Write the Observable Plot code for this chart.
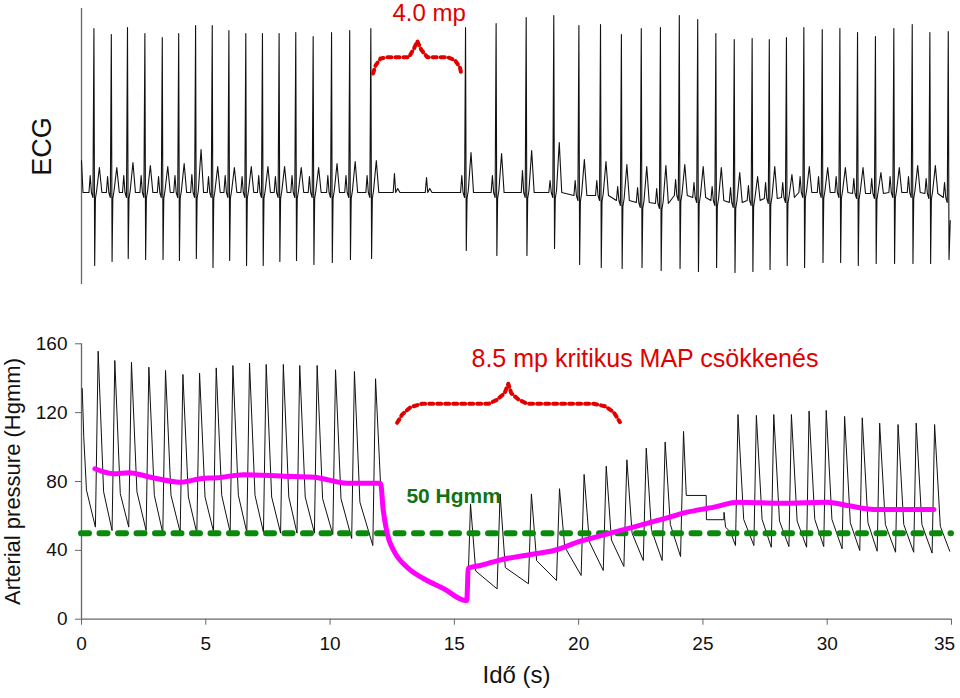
<!DOCTYPE html>
<html><head><meta charset="utf-8">
<script src="https://cdn.jsdelivr.net/npm/d3@7"></script>
<script src="https://cdn.jsdelivr.net/npm/@observablehq/plot@0.6"></script>
<style>
html,body{margin:0;padding:0;background:#fff;}
#wrap{position:relative;width:960px;height:698px;overflow:hidden;}
#wrap svg{position:absolute;left:0;overflow:visible;}
</style></head><body><div id="wrap"></div>
<script>
const FONT = "'Liberation Sans', Arial, sans-serif";
const RED = "#e00000";

// ---------- ECG (arbitrary mV, baseline 0) ----------
const ecgR = [0.50,1.20,1.85,2.55,3.25,3.91,4.59,5.26,5.93,6.61,7.28,7.95,8.62,9.32,10.06,10.79,11.64,
  15.45,16.68,17.89,19.00,20.01,20.88,21.72,22.52,23.29,24.05,24.79,25.52,26.26,26.98,27.67,28.36,29.06,29.80,30.51,31.22,31.94,32.68,33.42,34.13,34.87];
const ecgRtop = [1.64,1.58,1.65,1.59,1.55,1.59,1.67,1.67,1.62,1.59,1.59,1.59,1.60,1.56,1.60,1.62,1.64,
  1.65,1.69,1.75,1.77,1.67,1.68,1.58,1.64,1.65,1.77,1.73,1.59,1.53,1.54,1.53,1.55,1.65,1.63,1.64,1.60,1.56,1.64,1.68,1.60,1.61];
const ecgS = [-0.73,-0.69,-0.66,-0.67,-0.67,-0.68,-0.66,-0.75,-0.68,-0.73,-0.73,-0.69,-0.68,-0.72,-0.70,-0.67,-0.66,
  -0.58,-0.63,-0.63,-0.56,-0.72,-0.75,-0.76,-0.75,-0.78,-0.76,-0.79,-0.75,-0.80,-0.79,-0.77,-0.73,-0.75,-0.70,-0.70,-0.73,-0.71,-0.71,-0.71,-0.71,-0.67];
const ecgT = [0.25,0.25,0.30,0.27,0.26,0.29,0.43,0.26,0.25,0.26,0.26,0.26,0.25,0.25,0.29,0.31,0.32,
  0.40,0.39,0.42,0.50,0.33,0.31,0.28,0.26,0.27,0.28,0.26,0.25,0.20,0.16,0.26,0.18,0.26,0.25,0.25,0.25,0.20,0.25,0.27,0.27,0.00];
const ecgP = [0.17,0.16,0.17,0.17,0.16,0.17,0.18,0.16,0.17,0.16,0.17,0.16,0.17,0.16,0.17,0.17,0.17,
  0.17,0.17,0.22,0.12,0.15,0.15,0.14,0.15,0.15,0.16,0.15,0.14,0.15,0.15,0.16,0.15,0.16,0.16,0.16,0.15,0.15,0.16,0.16,0.15,0.15];
const ecgBase = [0,0,0,0,0,0,0,0,0,0,0,0,0,0,0,0,0,
  0,0,0,0,-0.03,-0.03,-0.08,-0.10,-0.11,-0.03,-0.05,-0.08,-0.10,-0.08,-0.06,-0.05,0,0,0,-0.01,-0.01,0,0,-0.01,-0.05];
const ecgPauseP = [12.59, 13.88];
const ecgPausePv = [0.19, 0.15];
const ecgStart = [[0, 0.32], [0.06, 0.0]];
const ecgEnd = [34.95, -0.28];

// ---------- Arterial pressure (Hgmm) ----------
const bpLead = [[0.03,134],[0.09,106],[0.20,75]];
const bpOnsetA = [0.56,1.23,1.90,2.60,3.27,3.97,4.64,5.31,5.98,6.65,7.32,8.01,8.67,9.37,10.11,10.87,11.72];
const bpDiaA   = [53.5,51.5,53.5,51.5,50,50.5,50,51,50.5,50.5,50.5,50,50,50,49.2,46.9,42.8];
const bpSysA   = [155.7,150.3,149.3,146.4,144.5,142.2,142.9,146,147.4,148.8,148,148,147.4,147.4,144.9,143.9,139.7];
const bpNotchA = [74,73,74,72,72,71,71,72,72,72,71,71,71,70,70,68,null];
const bpPause = [[12.03,79],[12.14,63.2],[12.30,49.6],[12.56,39.9],[13.10,30.2],[13.77,23.5],[14.58,17.7],[15.45,10.9]];
const bpOnsetB = [15.53,16.72,17.98,19.11,20.10,20.99,21.82,22.60,23.36,24.10];
const bpDiaB   = [10.9,17.6,20.6,22.5,25.4,28.3,30.6,34.1,34.1,36.4];
const bpSysB   = [67,72.8,72.8,75.8,84.1,88.9,92.6,99.4,102.9,109.1];
const bpNotchB = [28,30,34,42,45,46,50,52,55,null];
const bpArtifact = [[24.33,71.9],[25.13,71.9],[25.14,57.8],[25.84,57.8],[25.85,62.1],[25.91,53.5],[26.11,50.6]];
const bpOnsetC = [26.31,27.05,27.75,28.46,29.17,29.86,30.60,31.31,32.01,32.75,33.48,34.22];
const bpDiaC   = [42.8,42.8,41.8,42.2,41.8,42.2,40.9,39.9,39.5,38.9,38.9,38.4];
const bpSysC   = [118.9,118.4,118.9,118.9,120.9,121.3,117.8,117,113.9,113.1,113.9,113.1];
const bpNotchC = [58,58,57,57,58,58,56,56,55,55,55,54];
const bpEnd = [[34.93,39.5]];

// MAP (magenta)
const mapT = [0.54,1.30,1.90,2.78,3.98,4.79,5.46,6.53,8.14,9.35,10.69,12.03,12.14,12.30,12.56,13.10,13.77,14.58,15.45,15.50,15.56,16.05,16.86,18.06,19.00,20.07,21.28,22.09,23.29,24.37,25.44,26.38,28.12,30.00,30.80,32.01,34.29];
const mapV = [87.4,84.5,85.1,82.5,79.6,81.6,82.2,83.9,83.1,82.5,79.0,79.0,63.2,49.6,39.9,30.2,23.5,17.7,10.9,10.9,29.6,31.2,34.5,37.6,39.9,45.3,50.0,53.1,57.8,62.2,65.1,68.0,67.4,68.0,66.1,63.7,63.7];
const critical = [50];

const xTicks = [0,5,10,15,20,25,30,35];
const yTicks = [0,40,80,120,160];

// annotations (data units)
const braceTop = [[11.73,1.19],[11.83,1.27],[12.03,1.34],[12.30,1.353],[13.17,1.353],[13.37,1.437],[13.51,1.513],[13.67,1.427],[13.91,1.353],[14.71,1.353],[15.01,1.327],[15.22,1.253],[15.29,1.18]];
const braceBottom = [[12.70,114.1],[12.90,118.9],[13.24,123.2],[13.71,125.2],[16.39,125.2],[16.72,127.5],[17.02,131.3],[17.17,136.8],[17.29,131.3],[17.59,127.5],[17.93,125.2],[20.61,125.2],[21.08,123.6],[21.41,120.3],[21.66,114.5]];
const noteTop = {text: "4.0 mp", at: [12.51, 1.72]};
const noteBottom = {text: "8.5 mp kritikus MAP csökkenés", at: [15.69, 146.4]};
const noteLimit = {text: "50 Hgmm", at: [13.07, 67.4]};

// ---------- build traces ----------
const ecgPts = [...ecgStart];
ecgR.forEach((r, i) => {
  const b = ecgBase[i];
  const tpl = [[-0.20,b],[-0.15,b+ecgP[i]],[-0.10,b],[-0.04,b-0.05],[0,ecgRtop[i]],[0.03,ecgS[i]],
    [0.06,b-0.06],[0.11,b+0.02],[0.22,ecgT[i]],[0.32,b]];
  tpl.forEach(([dt, v]) => ecgPts.push([r + dt, v]));
});
ecgPauseP.forEach((t, i) => {
  [[-0.05,0],[0,ecgPausePv[i]],[0.05,0],[0.13,0.04],[0.22,0]].forEach(([dt,v]) => ecgPts.push([t+dt, v]));
});
const ecg = ecgPts.filter(d => d[0] <= 34.92).sort((a,b) => a[0]-b[0]);
ecg.push(ecgEnd);

function beats(onset, dia, sys, notch, rise) {
  const out = [];
  onset.forEach((t, i) => {
    out.push([t, dia[i]], [t + rise, sys[i]]);
    if (notch[i] != null) out.push([t + 0.33, notch[i]]);
  });
  return out;
}
const bp = [
  ...bpLead,
  ...beats(bpOnsetA, bpDiaA, bpSysA, bpNotchA, 0.11),
  ...bpPause,
  ...beats(bpOnsetB, bpDiaB, bpSysB, bpNotchB, 0.12),
  ...bpArtifact,
  ...beats(bpOnsetC, bpDiaC, bpSysC, bpNotchC, 0.10),
  ...bpEnd
];
const map = mapT.map((t, i) => [t, mapV[i]]);

const wrap = document.getElementById("wrap");

const topPlot = Plot.plot({
  width: 960, height: 300,
  marginLeft: 81, marginRight: 9, marginTop: 8, marginBottom: 16,
  x: {domain: [0, 35], axis: null},
  y: {domain: [-0.92, 1.84], axis: null},
  style: {fontFamily: FONT, background: "transparent", overflow: "visible"},
  marks: [
    Plot.ruleX([0], {stroke: "#666", strokeWidth: 1.3}),
    Plot.line(ecg, {x: d => d[0], y: d => d[1], stroke: "#111", strokeWidth: 1.1}),
    Plot.line(braceTop, {x: d => d[0], y: d => d[1], stroke: RED, strokeWidth: 4, strokeDasharray: "4,4"}),
    Plot.text([noteTop], {x: d => d.at[0], y: d => d.at[1], text: d => d.text, fill: RED, fontSize: 24, textAnchor: "start", lineAnchor: "bottom"}),
    Plot.text(["ECG"], {text: d => d, frameAnchor: "left", dx: -39, rotate: -90, textAnchor: "middle", lineAnchor: "middle", fontSize: 27, fill: "#111"})
  ]
});
topPlot.style.top = "0px";
wrap.appendChild(topPlot);

const botPlot = Plot.plot({
  width: 960, height: 398,
  marginLeft: 81, marginRight: 9, marginTop: 43.3, marginBottom: 79.3,
  x: {domain: [0, 35]},
  y: {domain: [0, 160]},
  style: {fontFamily: FONT, background: "transparent", overflow: "visible"},
  marks: [
    Plot.axisX({ticks: xTicks, tickSize: 6, tickPadding: 11, fontSize: 19, stroke: "#666", fill: "#111", label: null,
      tickFormat: d => d === 35 ? "" : String(d)}),
    Plot.text([35], {x: d => d, text: d => String(d), frameAnchor: "bottom", dy: 17, dx: -7, lineAnchor: "top", fontSize: 19, fill: "#111"}),
    Plot.axisY({ticks: yTicks, tickSize: 6, tickPadding: 8, fontSize: 19, stroke: "#666", fill: "#111", label: null}),
    Plot.ruleX([0], {stroke: "#666", strokeWidth: 1.3}),
    Plot.ruleY([0], {stroke: "#666", strokeWidth: 1.3}),
    Plot.line(bp, {x: d => d[0], y: d => d[1], stroke: "#111", strokeWidth: 1}),
    Plot.ruleY(critical, {stroke: "#0a8a0a", strokeWidth: 6, strokeDasharray: "8,10.5", strokeLinecap: "round"}),
    Plot.line(map, {x: d => d[0], y: d => d[1], stroke: "#ff00ff", strokeWidth: 5, strokeLinejoin: "round", curve: "monotone-x"}),
    Plot.line(braceBottom, {x: d => d[0], y: d => d[1], stroke: RED, strokeWidth: 4, strokeDasharray: "4,4"}),
    Plot.text([noteBottom], {x: d => d.at[0], y: d => d.at[1], text: d => d.text, fill: RED, fontSize: 25, textAnchor: "start", lineAnchor: "bottom"}),
    Plot.text([noteLimit], {x: d => d.at[0], y: d => d.at[1], text: d => d.text, fill: "#137313", fontSize: 21, fontWeight: "bold", textAnchor: "start", lineAnchor: "bottom"}),
    Plot.text(["Arterial pressure (Hgmm)"], {text: d => d, frameAnchor: "left", dx: -69, rotate: -90, textAnchor: "middle", lineAnchor: "middle", fontSize: 22, fill: "#111"}),
    Plot.text(["Idő (s)"], {text: d => d, frameAnchor: "bottom", dy: 64, fontSize: 24, fill: "#111"})
  ]
});
botPlot.style.top = "300px";
wrap.appendChild(botPlot);
</script>
</body></html>
